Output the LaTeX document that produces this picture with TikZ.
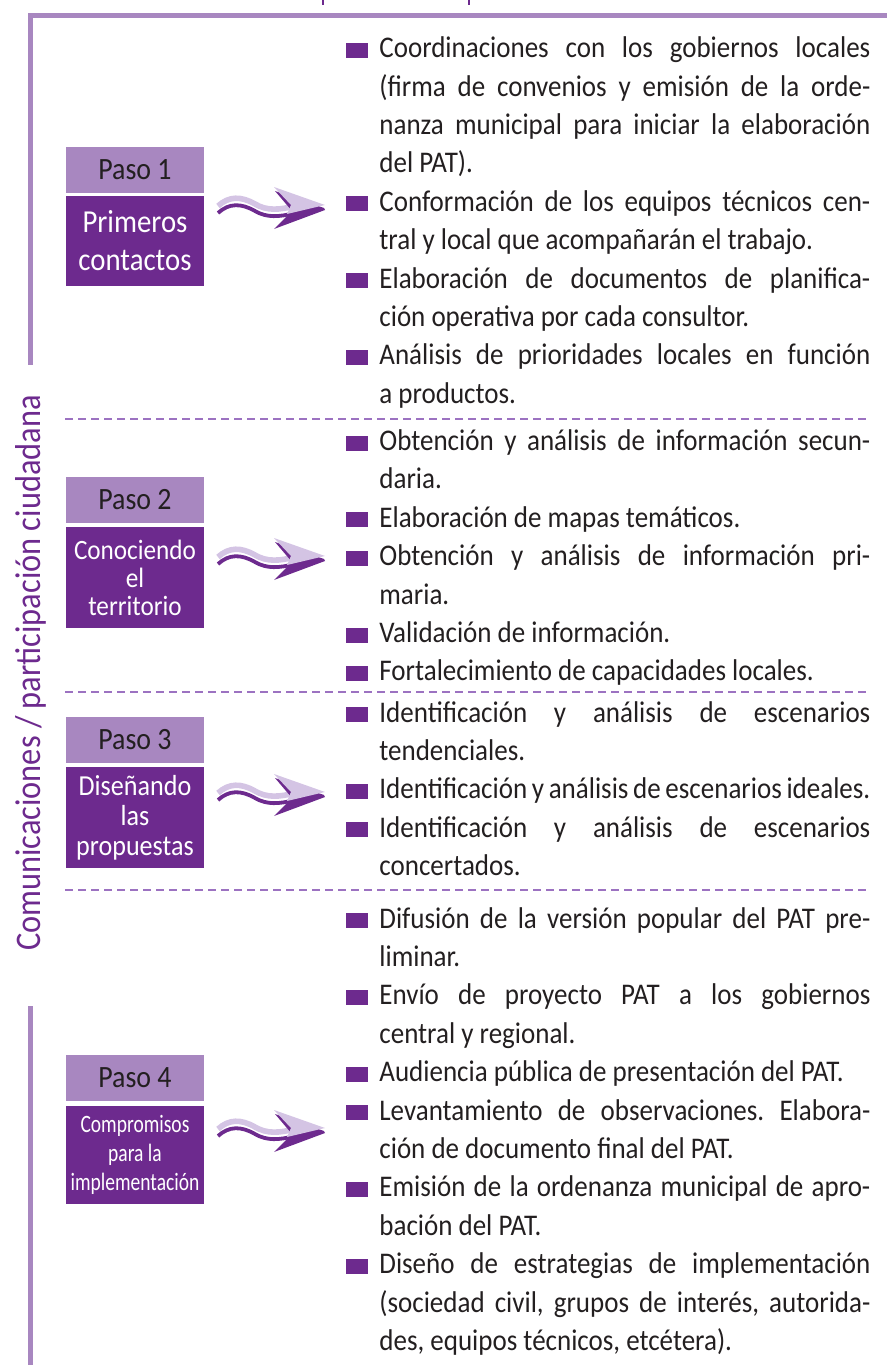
\documentclass[tikz,border=0pt]{standalone}
\usepackage{fontspec}
\setmainfont{Carlito}[FakeStretch=0.9]
\newfontfamily\narrowfont{Carlito}[FakeStretch=0.78]
\usetikzlibrary{positioning}
\definecolor{pasolight}{HTML}{A887C0}
\definecolor{pasodark}{HTML}{6D2A8E}
\definecolor{arrowlight}{HTML}{D4C4E4}
\definecolor{dashcol}{HTML}{9C72C1}
\definecolor{textcol}{HTML}{231F20}
% bullet item with hanging indent
\newcommand{\bul}{\hangindent=16.5pt\relax\hangafter=1\relax\makebox[16.5pt][l]{\textcolor{pasodark}{\rule{11pt}{7.5pt}}}}
\newcommand{\itm}{\par\bul}
\newcommand{\listsetup}{\frenchspacing\tolerance=10000\relax\hbadness=10000\relax\hyphenpenalty=10000\relax}
% wavy arrow, tip at #1
\newcommand{\pasoarrow}[1]{%
  \begin{scope}[shift={(#1)}]
    \draw[pasodark,line width=1.9pt] (-107,8) .. controls (-96,-2) and (-84,-2) .. (-70,6) .. controls (-58,13) and (-46,12) .. (-30,8);
    \draw[arrowlight,line width=2.8pt] (-107,1) .. controls (-96,-9) and (-84,-9) .. (-70,-1) .. controls (-58,6) and (-46,5) .. (-30,1);
    \fill[pasodark] (-50,-14) -- (-1,3) -- (0,5) -- (-51,24) -- (-33,6) -- cycle;
    \fill[arrowlight] (-51,-18) -- (0,0) -- (-38,9) -- (-34,0) -- cycle;
  \end{scope}}

\begin{document}
\begin{tikzpicture}[x=0.5pt,y=-0.5pt]
  % styles
  \tikzstyle{pasolbl} = [fill=pasolight,text=textcol,minimum width=69pt,minimum height=23pt,inner sep=0pt,outer sep=0pt,font=\fontsize{15.5}{17}\selectfont];
  \tikzstyle{pasobox} = [fill=pasodark,text=white,minimum width=69pt,inner sep=0pt,outer sep=0pt,align=center];
  \tikzstyle{steplist} = [anchor=base west,inner sep=0pt,text width=262pt,align=justify,text=textcol,font=\fontsize{15}{19.2}\selectfont];
  \tikzstyle{frame} = [pasolight,line width=2.5pt];
  \tikzstyle{sepline} = [dashcol,line width=1pt,dash pattern=on 4pt off 2.5pt];

  \useasboundingbox (0,0) rectangle (887,1365);

  % frame and side title
  \draw[frame] (887,15) -- (30,15) -- (30,365);
  \draw[frame] (30,1006) -- (30,1365);
  \draw[pasodark,line width=1.2pt] (323,0) -- (323,5);
  \draw[pasodark,line width=1.2pt] (469,0) -- (469,5);
  \node[rotate=90,text=pasodark,font=\fontsize{18}{18}\selectfont] (side) at (31,673) {Comunicaciones / participación ciudadana};

  % steps
  \node[pasolbl] (paso1) at (135,170) {Paso 1};
  \node[pasobox,below=1.5pt of paso1,minimum height=45pt,font=\fontsize{16}{19}\selectfont] (step1) {Primeros\\contactos};
  \node[pasolbl] (paso2) at (135,500) {Paso 2};
  \node[pasobox,below=2pt of paso2,minimum height=50.5pt,font=\fontsize{14}{14}\selectfont] (step2) {Conociendo\\el\\territorio};
  \node[pasolbl] (paso3) at (135,740) {Paso 3};
  \node[pasobox,below=2pt of paso3,minimum height=50.5pt,font=\fontsize{14.5}{15}\selectfont] (step3) {Diseñando\\las\\propuestas};
  \node[pasolbl] (paso4) at (135,1077.5) {Paso 4};
  \node[pasobox,below=2.5pt of paso4,minimum height=49pt,font=\narrowfont\fontsize{12.5}{14.5}\selectfont] (step4) {Compromisos\\para la\\implementación};

  % arrows
  \coordinate (arr1) at (325,205);
  \coordinate (arr2) at (325,556);
  \coordinate (arr3) at (325,792);
  \coordinate (arr4) at (325,1128);
  \pasoarrow{arr1}
  \pasoarrow{arr2}
  \pasoarrow{arr3}
  \pasoarrow{arr4}

  % separators
  \draw[sepline] (65,419) -- (868,419);
  \draw[sepline] (65,692) -- (868,692);
  \draw[sepline] (65,890) -- (868,890);

  % lists
  \node[steplist] (list1) at (346,57.6) {\listsetup\bul Coordinaciones con los gobiernos locales\linebreak (firma de convenios y emisión de la orde-\linebreak nanza municipal para iniciar la elaboración\linebreak del PAT).
    \itm Conformación de los equipos técnicos cen-\linebreak tral y local que acompañarán el trabajo.
    \itm Elaboración de documentos de planifica-\linebreak ción operativa por cada consultor.
    \itm Análisis de prioridades locales en función\linebreak a productos.\par};
  \node[steplist] (list2) at (346,450.5) {\listsetup\bul Obtención y análisis de información secun-\linebreak daria.
    \itm Elaboración de mapas temáticos.
    \itm Obtención y análisis de información pri-\linebreak maria.
    \itm Validación de información.
    \itm Fortalecimiento de capacidades locales.\par};
  \node[steplist] (list3) at (346,722) {\listsetup\bul Identificación y análisis de escenarios\linebreak tendenciales.
    \itm Identificación y análisis de escenarios ideales.
    \itm Identificación y análisis de escenarios\linebreak concertados.\par};
  \node[steplist] (list4) at (346,928) {\listsetup\bul Difusión de la versión popular del PAT pre-\linebreak liminar.
    \itm Envío de proyecto PAT a los gobiernos\linebreak central y regional.
    \itm Audiencia pública de presentación del PAT.
    \itm Levantamiento de observaciones. Elabora-\linebreak ción de documento final del PAT.
    \itm Emisión de la ordenanza municipal de apro-\linebreak bación del PAT.
    \itm Diseño de estrategias de implementación\linebreak (sociedad civil, grupos de interés, autorida-\linebreak des, equipos técnicos, etcétera).\par};
\end{tikzpicture}
\end{document}
